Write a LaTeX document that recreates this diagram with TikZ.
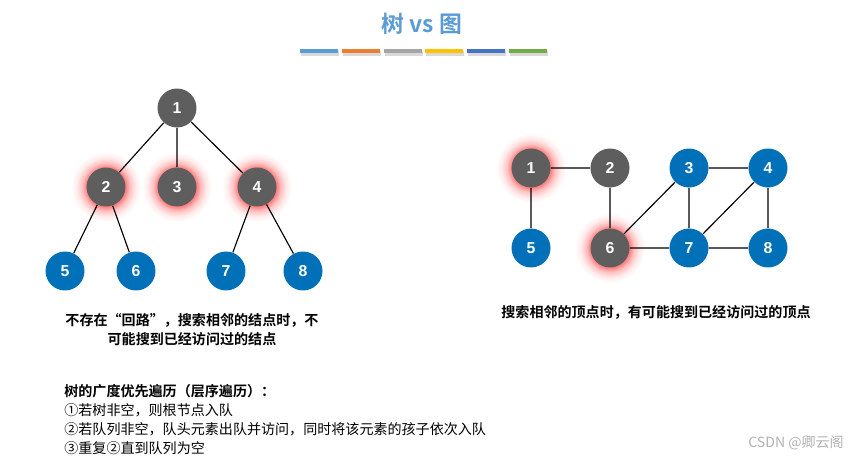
\documentclass[tikz,border=0pt]{standalone}
\usepackage{fontspec}
\setmainfont{Liberation Sans}
\newfontfamily\cjk{Noto Sans CJK SC}[BoldFont={Noto Sans CJK SC Bold}]
\usetikzlibrary{backgrounds}

\definecolor{nodegray}{RGB}{94,94,94}
\definecolor{nodeblue}{RGB}{0,112,184}
\definecolor{titleblue}{RGB}{91,155,213}
\definecolor{barblue}{RGB}{91,155,213}
\definecolor{barorange}{RGB}{237,125,49}
\definecolor{bargray}{RGB}{165,165,165}
\definecolor{baryellow}{RGB}{255,192,0}
\definecolor{bardblue}{RGB}{68,114,196}
\definecolor{bargreen}{RGB}{112,173,71}

% red halo behind visited nodes
\pgfdeclareradialshading{nodeglow}{\pgfpoint{0bp}{0bp}}{color(0bp)=(red!50); color(14bp)=(red!50); color(17bp)=(red!25); color(21bp)=(red!8); color(25bp)=(white); color(50bp)=(white)}

\begin{document}
\begin{tikzpicture}[x=0.02cm, y=-0.02cm,
    vnode/.style={circle, minimum size=0.78cm, inner sep=0pt, text=white,
        font=\bfseries\fontsize{9}{9}\selectfont},
    graynode/.style={vnode, fill=nodegray},
    bluenode/.style={vnode, fill=nodeblue},
    link/.style={line width=0.65pt},
    note/.style={font=\cjk\bfseries\fontsize{8}{10.8}\selectfont, align=center}]
    \useasboundingbox (0,0) rectangle (862,459);

    % title and colour bars
    \node[text=titleblue, font=\cjk\bfseries\fontsize{13}{13}\selectfont] (title) at (422,24) {树 vs 图};
    \foreach \c [count=\i from 0] in {barblue,barorange,bargray,baryellow,bardblue,bargreen} {
        \fill[black!15] (301+\i*41.8,51) rectangle ++(38,5);
        \fill[\c] (300+\i*41.8,49) rectangle ++(38,4);
    }

    % tree
    \node[graynode] (t1) at (177,108) {1};
    \node[graynode] (t2) at (106,187) {2};
    \node[graynode] (t3) at (177,187) {3};
    \node[graynode] (t4) at (257,187) {4};
    \node[bluenode] (t5) at (65,271) {5};
    \node[bluenode] (t6) at (136,271) {6};
    \node[bluenode] (t7) at (226,271) {7};
    \node[bluenode] (t8) at (303,271) {8};
    \draw[link] (t1) -- (t2) (t1) -- (t3) (t1) -- (t4)
        (t2) -- (t5) (t2) -- (t6) (t4) -- (t7) (t4) -- (t8);

    % graph
    \node[graynode] (g1) at (531,168) {1};
    \node[graynode] (g2) at (610,168) {2};
    \node[bluenode] (g3) at (689,168) {3};
    \node[bluenode] (g4) at (768,168) {4};
    \node[bluenode] (g5) at (531,248) {5};
    \node[graynode] (g6) at (610,248) {6};
    \node[bluenode] (g7) at (689,248) {7};
    \node[bluenode] (g8) at (768,248) {8};
    \draw[link] (g1) -- (g2) (g1) -- (g5) (g2) -- (g6) (g3) -- (g4)
        (g3) -- (g6) (g3) -- (g7) (g4) -- (g7) (g4) -- (g8)
        (g6) -- (g7) (g7) -- (g8);

    \begin{scope}[on background layer]
        \foreach \n in {t2,t3,t4,g1,g6}
            \shade[shading=nodeglow] (\n) circle (0.7cm);
    \end{scope}

    % notes
    \node[note] (treenote) at (192,330) {不存在“回路”，搜索相邻的结点时，不\\可能搜到已经访问过的结点};
    \node[note] (graphnote) at (656,312) {搜索相邻的顶点时，有可能搜到已经访问过的顶点};
    \node[anchor=north west, align=left, inner sep=0pt,
        font=\cjk\fontsize{8}{10.8}\selectfont] (bfs) at (64,384)
        {\textbf{树的广度优先遍历（层序遍历）：}\\①若树非空，则根节点入队\\②若队列非空，队头元素出队并访问，同时将该元素的孩子依次入队\\③重复②直到队列为空};
    \node[anchor=east, text=gray!60, font=\cjk\fontsize{8}{9}\selectfont] (mark) at (850,443) {CSDN @卿云阁};
\end{tikzpicture}
\end{document}
